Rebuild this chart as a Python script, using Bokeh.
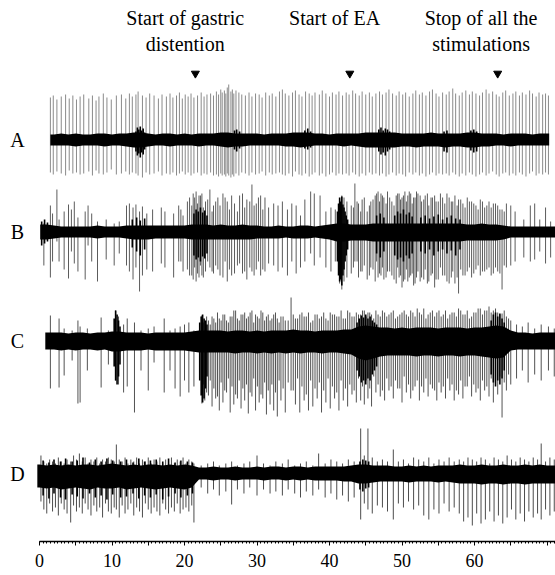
import numpy as np
from bokeh.plotting import figure
from bokeh.models import Range1d, LinearAxis, FixedTicker, ColumnDataSource
from bokeh.core.properties import value
from bokeh.embed import file_html
from bokeh.resources import INLINE

# ---------------- data ----------------
# time axis tick labels (s)
tick_values = [0, 10, 20, 30, 40, 50, 60]
tick_labels = ["0", "10", "20", "30", "40", "50", "60"]

# event markers (s)
event_t = [21.5, 42.8, 63.2]
event_labels = [["Start of gastric", "distention"], ["Start of EA"], ["Stop of all the", "stimulations"]]

trace_names = ["A", "B", "C", "D"]
trace_span = {"A": (1.5, 70.3), "B": (0.1, 71.6), "C": (0.8, 71.6), "D": (-0.3, 71.6)}

# envelope of the dense background activity, sampled every second (0..71 s)
env_t = list(range(72))
A_env_up = [5,5,5,6,5,6,5,5,6,6, 5,6,6,7,7,6,5,6,6,5, 6,5,6,6,6,7,7,6,6,6, 6,5,6,6,6,7,7,7,6,6,
            5,6,6,6,6,7,7,7,7,7, 6,6,6,6,7,6,6,6,6,7, 7,6,6,6,5,6,6,6,5,6, 6,6]
A_env_dn = [6,6,6,6,6,7,6,6,6,7, 6,6,7,8,8,7,6,6,7,6, 6,6,7,6,6,7,8,7,7,6, 6,6,6,6,7,7,8,7,6,6,
            6,6,7,6,7,8,8,8,8,8, 7,7,8,7,7,7,8,7,7,8, 8,7,7,6,6,7,6,6,6,6, 6,6]
B_env_up = [7,7,6,5,5,5,5,5,6,5, 5,5,6,6,6,6,6,6,6,6, 6,7,7,7,6,7,6,6,7,6, 6,5,5,6,5,5,6,6,5,6,
            7,8,8,7,7,7,8,8,8,8, 8,8,8,8,8,8,8,8,8,7, 7,8,7,7,6,5,5,5,5,5, 5,5]
B_env_dn = [8,8,7,6,6,6,6,6,7,6, 6,6,7,8,8,8,7,7,7,7, 7,8,8,8,8,8,8,8,8,8, 7,7,7,7,6,7,7,7,6,7,
            8,10,10,9,9,9,10,10,10,10, 10,10,10,10,10,10,10,10,10,9, 9,9,9,9,8,6,6,6,6,6, 6,6]
C_env_up = [8,8,8,8,7,8,8,7,8,8, 9,9,8,8,8,7,8,8,8,8, 8,9,10,10,10,10,9,10,10,9, 10,9,10,10,10,11,10,10,9,10,
            10,10,11,11,14,15,14,13,13,12, 13,12,13,13,13,12,13,13,13,12, 13,13,14,15,14,10,8,8,7,8, 8,8]
C_env_dn = [9,9,9,10,9,10,9,9,10,9, 11,11,10,10,10,9,10,10,10,10, 10,11,12,12,12,12,12,13,12,12, 13,12,13,12,13,12,13,12,12,13,
            12,12,13,14,18,20,18,16,15,15, 15,15,16,15,15,16,15,15,16,15, 15,16,17,18,17,10,9,9,9,9, 9,9]
D_env_up = [9,8,9,8,9,8,9,9,8,9, 10,9,8,9,8,9,9,8,9,8, 9,8,6,6,7,6,6,7,6,6, 7,6,7,7,6,7,7,6,7,7,
            7,7,7,8,9,9,8,8,8,7, 7,8,7,8,7,8,8,8,9,8, 8,9,8,8,9,8,8,9,8,9, 8,8]
D_env_dn = [14,15,14,16,15,14,15,16,14,15, 15,14,16,15,14,15,16,15,14,15, 16,14,6,6,7,6,6,7,6,6,
            6,7,6,6,7,6,7,6,7,7, 7,7,8,8,10,10,9,8,8,8, 8,9,8,8,8,9,8,9,10,10, 10,11,10,10,11,10,10,11,10,10, 10,10]

# individual (grey) spikes: time (s), upward and downward amplitude
A_t = [1.5,1.9,2.4,3.0,3.6,4.1,4.6,5.1,5.6,6.1, 6.8,7.3,7.8,8.2,8.8,9.3,9.9,10.6,11.3,11.9,
       12.4,12.8,13.3,13.6,14.2,14.7,15.2,15.8,16.4,16.9, 17.5,18.0,18.4,18.9,19.3,19.7,20.1,20.5,20.9,21.3,
       21.8,22.3,22.7,23.1,23.6,24.0,24.4,24.7,25.0,25.2, 25.5,25.7,25.9,26.1,26.4,26.6,26.8,27.1,27.5,27.9,
       28.4,28.9,29.3,29.8,30.3,30.7,31.2,31.7,32.1,32.6, 33.1,33.5,33.9,34.4,34.9,35.3,35.8,36.2,36.7,37.2,
       37.6,38.0,38.6,39.0,39.5,40.0,40.4,40.9,41.3,41.8, 42.3,42.7,43.2,43.6,44.1,44.5,45.0,45.5,45.9,46.4,
       46.9,47.3,47.8,48.2,48.7,49.2,49.6,50.1,50.5,51.0, 51.5,51.9,52.4,52.8,53.3,53.8,54.2,54.7,55.1,55.6,
       56.1,56.5,57.0,57.4,57.9,58.3,58.8,59.3,59.7,60.2, 60.7,61.1,61.6,62.0,62.5,63.0,63.4,63.9,64.3,64.8,
       65.3,65.7,66.2,66.6,67.1,67.6,68.0,68.5,68.9,69.4, 69.8,70.2]
A_up = [42,44,40,43,45,41,44,40,43,45, 41,44,39,43,46,42,40,44,45,41, 46,43,45,48,44,42,46,44,41,45,
        43,46,42,44,47,41,45,43,46,42, 44,47,43,45,46,44,48,45,50,47, 49,46,52,55,48,50,46,49,47,45,
        44,47,43,46,45,42,47,44,46,43, 48,50,46,44,47,49,45,43,48,46, 44,47,45,49,46,43,47,45,48,44,
        47,45,49,46,44,48,45,47,43,46, 48,45,47,50,46,44,48,45,47,43, 46,49,45,47,44,48,50,46,43,47,
        45,48,51,46,44,47,49,45,48,46, 44,47,50,46,48,45,43,47,49,44, 46,48,44,47,45,49,46,43,47,45, 46,44]
A_dn = [33,35,32,34,36,31,34,33,35,34, 32,36,31,34,35,33,30,35,34,32, 35,33,34,36,38,33,35,34,32,36,
        34,35,33,36,34,32,35,33,36,34, 33,36,34,35,33,36,35,37,34,36, 35,37,34,36,38,35,37,34,36,33,
        34,36,33,35,34,32,36,33,35,34, 33,35,36,34,37,32,35,36,34,37, 35,33,36,34,37,35,33,36,34,35,
        34,36,33,35,37,34,36,33,35,34, 36,34,37,35,33,36,34,35,37,33, 35,33,36,34,37,35,33,36,34,35,
        34,36,33,35,37,34,36,33,35,37, 35,33,36,34,32,35,37,34,33,36, 34,36,33,35,37,34,32,36,34,35, 33,35]

B_t = [0.6,1.5,1.8,2.4,2.7,3.4,4.0,4.4,4.8,5.3, 6.3,6.7,7.2,8.0,9.2,10.3,11.0,12.0,12.4,12.9,
       13.3,13.8,14.2,14.8,15.6,16.8,17.3,18.5,19.2,19.8, 20.7,21.2,21.6,22.0,22.4,22.9,23.5,24.0,24.6,25.3,
       25.9,26.5,27.3,28.0,28.6,29.3,29.9,30.5,31.1,31.6, 32.3,32.9,33.5,34.2,34.8,35.4,36.0,36.6,37.4,37.9,
       38.7,39.5,40.2,40.8,41.4,41.7,42.0,42.4,43.0,43.5, 44.0,44.5,45.2,45.7,46.3,46.7,47.1,47.5,48.0,48.6,
       49.2,49.6,50.0,50.4,50.8,51.2,51.6,52.0,52.5,53.0, 53.5,54.0,54.5,55.0,55.6,56.2,56.8,57.3,57.8,58.4,
       59.0,59.6,60.2,60.8,61.4,62.0,62.6,63.2,63.8,64.4, 65.0,65.6,66.8,67.7,68.3,69.0,69.8,70.5,71.2]
B_up = [8,26,18,42,12,20,27,22,30,14, 20,26,18,10,12,8,10,26,28,24, 27,20,25,18,22,24,20,18,26,16,
        34,38,40,36,38,30,42,26,34,38, 30,36,20,38,32,47,28,36,34,24, 28,26,30,22,28,26,16,32,40,38,
        36,20,24,22,32,36,34,30,26,48, 28,32,20,30,36,40,38,34,40,30, 36,38,34,40,36,38,34,40,36,32,
        38,34,36,30,34,38,30,36,32,28, 34,30,26,32,24,30,28,26,22,28, 26,20,12,26,28,12,24,10,14]
B_dn = [34,46,30,10,30,38,47,20,32,40, 48,14,30,50,28,34,22,34,40,48, 36,60,44,38,40,32,36,46,30,40,
        44,48,50,46,44,40,36,42,38,46, 50,44,34,42,48,40,38,44,40,32, 34,40,36,44,30,42,36,30,22,34,
        26,36,40,30,52,58,50,46,42,30, 46,40,48,36,50,46,44,48,40,44, 52,46,56,48,50,44,54,46,50,48,
        52,44,56,48,44,50,46,52,62,44, 40,46,38,44,40,36,42,40,58,36, 34,30,26,30,28,20,32,26,22]
# second, interleaved population of B spikes in the active periods
B2_t = [19.5,20.4,21.0,21.4,21.8,22.2,22.6,23.2,23.8,24.3, 24.9,25.6,26.2,26.9,27.6,28.3,29.0,29.6,30.2,30.8,
        43.3,43.8,44.3,44.8,45.5,46.0,46.5,46.9,47.3,47.8, 48.3,48.9,49.4,49.8,50.2,50.6,51.0,51.4,51.8,52.2,
        52.7,53.2,53.7,54.2,54.7,55.3,55.9,56.5,57.0,57.6, 58.1,58.7,59.3,59.9,60.5,61.1,61.7,62.3,62.9,63.5, 64.1]
B2_up = [22,30,26,34,28,36,24,32,20,30, 26,34,22,28,36,24,30,26,34,22, 24,30,20,34,26,32,38,30,36,28,
         34,26,38,32,36,30,40,28,34,38, 30,36,26,34,30,38,28,34,30,26, 32,24,30,28,22,30,26,24,28,22, 20]
B2_dn = [30,38,44,36,42,34,46,30,40,34, 44,30,38,42,32,40,36,44,30,38, 36,30,40,34,44,38,30,42,36,46,
         40,48,36,44,50,38,46,42,52,40, 46,38,50,42,48,36,44,52,40,46, 38,44,36,42,34,40,38,44,36,42, 34]

C_t = [1.5,2.7,3.4,4.5,5.3,5.6,6.6,8.5,9.5,10.5, 10.9,11.6,12.1,13.1,14.0,15.0,15.8,17.2,18.0,18.7,
       19.4,20.0,20.6,21.3,22.4,22.8,23.3,23.8,24.3,24.8, 25.3,25.8,26.3,26.8,27.3,27.8,28.3,28.8,29.3,29.8,
       30.3,30.8,31.3,31.8,32.3,32.8,33.3,33.9,34.7,35.3, 35.9,36.5,37.1,37.7,38.3,38.9,39.5,40.1,40.7,41.3,
       41.9,42.5,43.1,43.7,44.3,44.8,45.3,45.8,46.4,47.0, 47.6,48.2,48.8,49.4,50.0,50.6,51.2,51.8,52.4,53.0,
       53.6,54.2,54.8,55.4,56.0,56.6,57.2,57.8,58.4,59.0, 59.6,60.2,60.8,61.4,62.0,62.6,63.2,63.8,64.4,65.0,
       65.8,66.6,67.4,68.3,69.2,70.2,71.0]
C_up = [25,22,12,10,20,14,12,23,10,30, 24,16,22,18,10,12,14,22,10,12, 14,16,18,10,25,20,20,24,18,22,
        26,20,24,30,22,26,28,24,30,26, 22,28,24,20,26,22,24,20,43,22, 26,24,28,20,26,24,22,28,26,24,
        22,30,24,28,26,30,28,26,30,24, 28,26,30,24,28,26,30,24,28,32, 26,30,28,24,30,26,28,32,26,30,
        24,28,32,30,34,30,28,27,24,20, 16,14,18,12,16,14,12]
C_dn = [48,47,35,20,63,62,30,47,24,40, 44,52,46,72,30,50,22,52,30,48, 56,40,52,46,63,60,55,66,58,70,
        62,52,72,64,58,68,60,73,56,70, 62,58,74,64,70,76,60,72,50,64, 72,60,70,66,58,72,62,68,58,70,
        60,66,54,62,60,64,58,66,52,56, 60,50,58,48,62,52,58,46,60,52, 56,48,60,52,58,50,60,54,58,46,
        56,52,60,50,56,62,54,77,50,44, 38,30,42,34,40,30,36]
# second, interleaved population of C spikes after the start of distention
C2_t = [22.6,23.05,23.55,24.05,24.55,25.05,25.55,26.05,26.55,27.05, 27.55,28.05,28.55,29.05,29.55,30.05,30.55,31.05,31.55,32.05,
        32.55,33.05,33.6,34.3,35.0,35.6,36.2,36.8,37.4,38.0, 38.6,39.2,39.8,40.4,41.0,41.6,42.2,42.8,43.4,44.0,
        44.55,45.05,45.55,46.1,46.7,47.3,47.9,48.5,49.1,49.7, 50.3,50.9,51.5,52.1,52.7,53.3,53.9,54.5,55.1,55.7,
        56.3,56.9,57.5,58.1,58.7,59.3,59.9,60.5,61.1,61.7, 62.3,62.9,63.5,64.1,64.7]
C2_up = [18,24,16,22,28,20,26,18,24,30, 20,26,22,28,18,24,30,20,26,22, 28,18,24,20,26,22,28,24,18,26,
         22,28,20,26,24,30,22,28,24,26, 30,24,28,22,26,30,24,28,22,26, 30,24,28,32,26,22,28,24,30,26,
         22,28,24,30,26,22,28,32,26,30, 28,32,26,30,22]
C2_dn = [44,52,40,48,56,42,50,38,46,54, 40,48,44,52,38,46,54,42,50,44, 52,40,48,42,50,38,46,54,40,48,
         42,50,38,46,52,40,48,44,50,38, 46,40,48,36,44,50,38,46,40,48, 36,44,50,40,46,38,44,50,42,46,
         38,44,50,40,46,36,44,48,40,46, 38,44,36,42,34]

D_t = [0.2,0.6,1.0,1.4,1.8,2.2,2.6,3.0,3.4,3.8, 4.3,4.7,5.1,5.5,5.9,6.3,6.7,7.1,7.5,7.9,
       8.3,8.7,9.1,9.5,9.9,10.3,10.6,11.0,11.4,11.8, 12.2,12.6,13.0,13.4,13.8,14.2,14.6,15.0,15.4,15.8,
       16.2,16.6,17.0,17.4,17.8,18.2,18.6,19.0,19.4,19.8, 20.2,20.6,21.0,21.3,22.3,23.2,24.0,24.8,25.7,26.5,
       27.3,28.2,29.0,30.0,30.9,31.8,32.6,33.5,34.3,35.2, 36.0,36.8,37.7,38.5,39.4,40.2,41.0,41.8,42.6,43.4,
       44.3,44.8,45.3,45.9,46.6,47.3,48.0,48.8,49.5,50.2, 50.9,51.6,52.3,53.0,53.7,54.4,55.1,55.8,56.5,57.2,
       57.9,58.5,59.1,59.7,60.3,60.9,61.5,62.1,62.7,63.3, 63.9,64.5,65.1,65.7,66.3,66.9,67.5,68.1,68.7,69.2,
       69.8,70.4,71.0]
D_up = [18,12,10,14,12,10,16,12,10,14, 12,18,14,20,12,16,10,14,12,16, 10,14,12,16,14,12,29,14,12,16,
        10,14,12,16,10,14,12,16,10,14, 12,16,10,14,12,16,10,14,12,16, 10,14,12,10,8,10,12,8,10,12,
        8,10,12,18,10,8,12,10,14,8, 10,12,8,20,10,14,12,10,14,12, 45,18,45,16,12,14,12,24,12,14,
        10,16,14,12,16,10,14,12,16,12, 14,12,16,14,12,16,14,10,16,14, 12,18,14,12,16,14,12,16,14,30,
        12,16,14]
D_dn = [28,36,40,30,38,34,42,30,36,40, 49,32,38,34,40,30,36,42,32,38, 34,44,30,38,40,34,36,44,32,40,
        36,30,42,34,38,44,30,36,40,34, 38,42,30,36,40,34,38,30,40,36, 34,38,32,49,14,20,16,22,18,31,
        16,20,14,22,16,20,18,22,16,20, 24,18,22,16,24,20,26,22,28,24, 46,30,36,40,32,34,38,46,30,34,
        28,36,32,42,46,36,40,30,38,34, 40,48,44,52,40,50,46,38,48,42, 50,44,36,46,40,48,38,44,40,46,
        36,42,38]

# dense black bursts (short dark spikes): time (s), upward and downward amplitude
A_dark_t = [13.3,13.5,13.7,13.9,14.1,14.3,14.5, 26.9,27.2,27.6, 36.6,37.0,37.4,
            46.8,47.1,47.4,47.7,48.0,48.3, 55.8,56.2, 59.5,59.9,60.3]
A_dark_up = [8,12,10,13,9,11,7, 9,10,8, 9,11,8, 10,12,9,11,10,8, 8,9, 9,10,8]
A_dark_dn = [12,16,14,18,13,15,10, 10,12,9, 9,10,8, 12,15,13,16,12,10, 12,13, 11,13,12]
B_dark_t = [0.3,0.7,1.1, 12.8,13.4,13.9,14.5, 21.3,21.6,21.9,22.2,22.5,22.8,23.1,
            41.1,41.25,41.4,41.55,41.7,41.85,42.0,42.15,42.3,42.5, 46.5,47.0,47.5,
            49.0,49.4,49.8,50.2,50.6,51.0,51.4, 52.6,53.2,53.8,54.4,55.0,55.6,56.2,56.8,57.4,58.0]
B_dark_up = [10,12,9, 12,14,11,13, 18,22,20,24,19,21,16, 20,28,34,30,35,27,24,20,16,12, 16,18,14,
             16,20,18,22,17,19,15, 14,16,13,15,17,12,14,16,13,12]
B_dark_dn = [14,12,10, 16,20,24,18, 24,28,26,30,25,27,22, 30,44,50,48,54,44,38,30,24,18, 22,26,20,
             24,28,26,30,24,27,22, 20,22,18,24,20,18,22,19,24,18]
C_dark_t = [10.3,10.5,10.7,10.9,11.1, 22.1,22.3,22.5,22.7,22.9,23.1,
            43.8,44.1,44.4,44.7,45.0,45.3,45.6,45.9,46.2,46.5, 62.3,62.6,62.9,63.2,63.5,63.8,64.1]
C_dark_up = [22,30,26,20,14, 18,24,26,22,20,16, 18,22,25,23,26,22,24,20,18,16, 20,26,28,24,27,22,18]
C_dark_dn = [26,40,44,36,24, 40,55,62,58,48,36, 30,36,42,40,44,38,40,34,30,26, 34,42,46,40,44,38,30]
D_dark_t = [0.5,1.3,2.0,2.9,3.6,4.5,5.2,6.0,6.9,7.7,8.5,9.3,10.1,11.2,12.0,12.9,13.7,14.5,15.3,16.1,
            17.0,17.8,18.7,19.5,20.4,21.1, 44.2,44.6,45.0,45.4]
D_dark_up = [13,11,14,12,15,12,13,16,11,14,12,15,13,12,14,11,15,12,13,14,12,15,11,13,12,11, 12,14,13,12]
D_dark_dn = [22,25,20,24,26,21,23,25,20,24,22,26,21,24,23,20,25,22,24,21,26,23,20,24,22,20, 16,18,15,14]

spikes = {"A": [(A_t, A_up, A_dn)],
          "B": [(B_t, B_up, B_dn), (B2_t, B2_up, B2_dn)],
          "C": [(C_t, C_up, C_dn), (C2_t, C2_up, C2_dn)],
          "D": [(D_t, D_up, D_dn)]}
dark = {"A": (A_dark_t, A_dark_up, A_dark_dn), "B": (B_dark_t, B_dark_up, B_dark_dn),
        "C": (C_dark_t, C_dark_up, C_dark_dn), "D": (D_dark_t, D_dark_up, D_dark_dn)}
envelopes = {"A": (A_env_up, A_env_dn), "B": (B_env_up, B_env_dn), "C": (C_env_up, C_env_dn), "D": (D_env_up, D_env_dn)}

# ---------------- layout / style ----------------
W, H = 555, 575
X0_PX, PX_PER_S = 39.0, 7.25
FRAME_H = 541
base_y = {"A": -139, "B": -231, "C": -340, "D": -473}
spike_color = {"A": "#8a8a8a", "B": "#5c5c5c", "C": "#525252", "D": "#4c4c4c"}
SERIF = "Liberation Serif"

def px_to_t(px):
    return (px - X0_PX) / PX_PER_S

p = figure(width=W, height=H, output_backend="svg", toolbar_location=None,
           x_axis_type=None, y_axis_type=None,
           x_range=Range1d(px_to_t(0), px_to_t(W)), y_range=Range1d(-FRAME_H, 0),
           min_border_left=0, min_border_right=0, min_border_top=0, min_border_bottom=H - FRAME_H)
p.outline_line_color = None
p.background_fill_color = "white"
p.border_fill_color = "white"
p.grid.visible = False

env_arr = np.array(env_t, dtype=float)
for name in trace_names:
    b = base_y[name]
    for arrays in spikes[name]:
        t, up, dn = (np.array(a, dtype=float) for a in arrays)
        src = ColumnDataSource(dict(x=t, y0=b - dn, y1=b + up))
        p.segment(x0="x", y0="y0", x1="x", y1="y1", source=src,
                  line_color=spike_color[name], line_width=1)

    s, e = trace_span[name]
    eu, ed = (np.array(a, dtype=float) for a in envelopes[name])
    m = (env_arr > s) & (env_arr < e)
    idx = np.where(m)[0]
    bx = np.concatenate([[s], env_arr[m], [e]])
    bu = np.concatenate([[eu[idx[0]]], eu[m], [eu[idx[-1]]]])
    bd = np.concatenate([[ed[idx[0]]], ed[m], [ed[idx[-1]]]])
    p.varea(x=bx, y1=b - bd, y2=b + bu, fill_color="black", fill_alpha=1.0)

    dt, du, dd = (np.array(a, dtype=float) for a in dark[name])
    dsrc = ColumnDataSource(dict(x=dt, y0=b - dd, y1=b + du))
    p.segment(x0="x", y0="y0", x1="x", y1="y1", source=dsrc, line_color="black", line_width=1.6)

    p.text(x=[px_to_t(17)], y=[b], text=[name], text_font=value(SERIF), text_font_size="20px",
           text_align="center", text_baseline="middle", text_color="black")

# event annotations
label_dx = [-1.4, -2.1, -2.3]   # text centres relative to arrows (s)
tx, ty, tt = [], [], []
for ev, lines, dx in zip(event_t, event_labels, label_dx):
    for i, line in enumerate(lines):
        tx.append(ev + dx)
        ty.append(-17 - 26 * i)
        tt.append(line)
p.text(x=tx, y=ty, text=tt, text_font=value(SERIF), text_font_size="20px",
       text_align="center", text_baseline="middle", text_color="black")
p.scatter(x=event_t, y=[-73] * len(event_t), marker="inverted_triangle", size=8,
          fill_color="black", line_color="black")

# time axis
major = [0, 5, 10, 15, 20, 25, 30, 35, 40, 45, 50, 55, 60, 65, 70]
minor = [i * 0.5 for i in range(0, 144)]
ax = LinearAxis(ticker=FixedTicker(ticks=major, minor_ticks=minor), bounds=(0, px_to_t(W)))
ax.major_label_overrides = {m_: "" for m_ in major if m_ not in tick_values}
ax.major_label_overrides.update({v: l for v, l in zip(tick_values, tick_labels)})
ax.axis_line_color = "black"
ax.axis_line_width = 1.5
ax.major_tick_line_color = "black"
ax.major_tick_out = 4
ax.major_tick_in = 0
ax.minor_tick_line_color = "black"
ax.minor_tick_out = 2
ax.minor_tick_in = 0
ax.major_label_standoff = 8
ax.major_label_text_font = SERIF
ax.major_label_text_font_size = "18px"
ax.major_label_text_color = "black"
p.add_layout(ax, "below")

open("out.html", "w").write(file_html(p, INLINE))
